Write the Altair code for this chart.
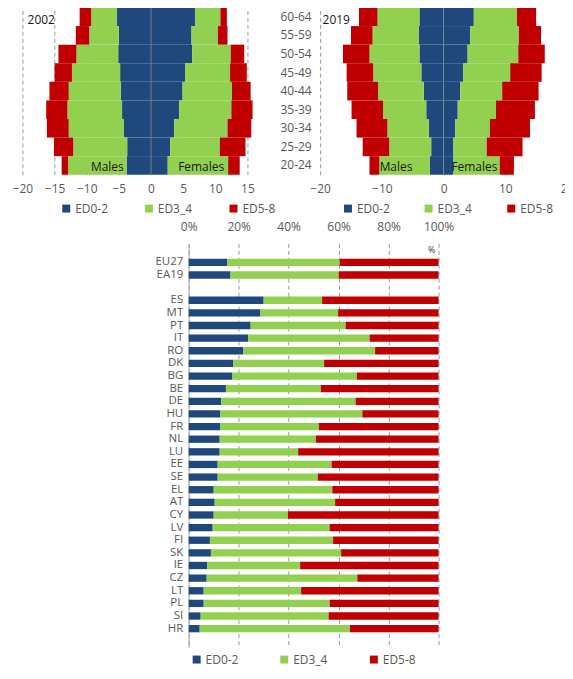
import altair as alt
import pandas as pd

FONT = "Open Sans"
GRAY = "#595959"

ages = ["20-24", "25-29", "30-34", "35-39", "40-44", "45-49", "50-54", "55-59", "60-64"]
levels = ["ED0-2", "ED3_4", "ED5-8"]
colors = ["#1F497D", "#92D050", "#C00000"]

# 2002 (share of population, %), listed from 20-24 to 60-64
m02_ed02 = [3.8, 3.7, 4.2, 4.5, 4.7, 4.8, 5.1, 5.0, 5.3]
m02_ed34 = [9.1, 8.4, 8.6, 8.5, 8.1, 7.5, 6.5, 4.6, 4.0]
m02_ed58 = [1.0, 3.0, 3.4, 3.3, 3.0, 2.7, 2.8, 2.1, 1.8]
f02_ed02 = [2.6, 3.0, 3.6, 4.4, 4.9, 5.3, 6.4, 6.3, 6.9]
f02_ed34 = [9.4, 7.7, 8.3, 8.1, 7.7, 7.0, 6.0, 4.1, 3.9]
f02_ed58 = [1.8, 4.0, 3.7, 3.3, 2.9, 2.6, 2.1, 1.5, 1.0]
# 2019
m19_ed02 = [2.2, 2.0, 2.4, 2.8, 3.2, 3.6, 3.9, 4.0, 3.9]
m19_ed34 = [8.2, 6.8, 6.7, 7.0, 7.4, 7.8, 8.1, 7.5, 6.8]
m19_ed58 = [1.6, 4.3, 5.0, 5.1, 5.0, 4.3, 4.3, 3.5, 3.0]
f19_ed02 = [1.6, 1.6, 1.9, 2.3, 2.7, 3.2, 3.9, 4.3, 4.9]
f19_ed34 = [7.5, 5.4, 5.6, 6.2, 6.8, 7.6, 8.2, 7.9, 7.0]
f19_ed58 = [2.3, 5.8, 6.5, 6.3, 5.9, 5.1, 4.3, 3.6, 3.1]

# Bottom chart: country shares (%)
countries = ["EU27", "EA19", "ES", "MT", "PT", "IT", "RO", "DK", "BG", "BE", "DE", "HU",
             "FR", "NL", "LU", "EE", "SE", "EL", "AT", "CY", "LV", "FI", "SK", "IE",
             "CZ", "LT", "PL", "SI", "HR"]
c_ed02 = [15.5, 16.7, 30.0, 28.7, 24.8, 23.8, 21.9, 17.8, 17.5, 14.9, 13.0, 12.7,
          12.7, 12.4, 12.4, 11.6, 11.6, 10.0, 10.4, 10.0, 9.6, 8.5, 8.9, 7.4,
          7.2, 6.0, 6.0, 4.8, 4.4]
c_ed34 = [44.9, 43.3, 23.4, 31.1, 38.0, 48.6, 52.7, 36.4, 49.8, 38.0, 53.8, 56.8,
          39.4, 38.5, 31.4, 45.6, 40.1, 47.5, 48.2, 29.7, 46.8, 49.3, 52.1, 37.2,
          60.3, 39.0, 50.4, 51.2, 60.1]
c_ed58 = [39.6, 40.0, 46.6, 40.2, 37.2, 27.6, 25.4, 45.8, 32.7, 47.1, 33.2, 30.5,
          47.9, 49.1, 56.2, 42.8, 48.3, 42.5, 41.4, 60.3, 43.6, 42.2, 39.0, 55.4,
          32.5, 55.0, 43.6, 44.0, 35.5]


def pyramid_df(m, f):
    rows = []
    for k, lev in enumerate(levels):
        for i, a in enumerate(ages):
            rows.append({"age": a, "level": lev, "ord": k, "value": -m[k][i]})
            rows.append({"age": a, "level": lev, "ord": k, "value": f[k][i]})
    return pd.DataFrame(rows)


def pyramid(df, xdom, xticks, year, year_x, males_x, females_x, show_y, leg_x, leg_pad, width):
    yaxis = alt.Axis(title=None, ticks=False, domain=False, labelPadding=9,
                     labelColor=GRAY, labelFontSize=12, labelFont=FONT) if show_y else None
    yenc = alt.Y("age:N", sort=ages[::-1], axis=yaxis,
                 scale=alt.Scale(paddingInner=0, paddingOuter=0))
    xscale = alt.Scale(domain=xdom, nice=False, zero=False)
    xaxis = alt.Axis(values=xticks, title=None, grid=True, gridDash=[4, 3],
                     gridColor="#9a9a9a", domain=False, ticks=False,
                     labelPadding=9, labelColor=GRAY, labelFontSize=12,
                     labelFont=FONT, labelFlush=False, labelOverlap=False)
    bars = alt.Chart(df).mark_bar(stroke=None).encode(
        x=alt.X("value:Q", stack="zero", scale=xscale, axis=xaxis),
        y=yenc,
        color=alt.Color("level:N", scale=alt.Scale(domain=levels, range=colors),
                        legend=alt.Legend(orient="none", legendX=leg_x, legendY=196,
                                          direction="horizontal", title=None,
                                          columnPadding=leg_pad, symbolType="square",
                                          symbolSize=64, symbolStrokeWidth=0,
                                          labelFontSize=12, labelColor=GRAY,
                                          labelFont=FONT, padding=0, labelOffset=3)),
        order=alt.Order("ord:Q"),
    )
    zero = alt.Chart(pd.DataFrame({"x": [0], "age": ["60-64"]})).mark_rule(
        color="#8c8c8c", strokeWidth=1, opacity=0.8).encode(
        x=alt.X("x:Q", scale=xscale, axis=xaxis), y=alt.value(0), y2=alt.value(168))
    year_df = pd.DataFrame({"t": [year], "x": [year_x], "age": ["60-64"]})
    year_txt = alt.Chart(year_df).mark_text(align="left", baseline="middle", dy=3,
                                            fontSize=12, font=FONT, color="#1a1a1a").encode(
        x=alt.X("x:Q", scale=xscale, axis=xaxis), y=yenc, text="t:N")
    sex_df = pd.DataFrame({"t": ["Males", "Females"], "x": [males_x, females_x],
                           "age": ["20-24", "20-24"]})
    sex_txt = alt.Chart(sex_df).mark_text(align="center", baseline="bottom", dy=9,
                                          fontSize=12, font=FONT, color="#1a1a1a").encode(
        x=alt.X("x:Q", scale=xscale, axis=xaxis), y=yenc, text="t:N")
    return alt.layer(bars, zero, year_txt, sex_txt).properties(width=width, height=168)


left = pyramid(pyramid_df([m02_ed02, m02_ed34, m02_ed58], [f02_ed02, f02_ed34, f02_ed58]),
               [-20, 15], [-20, -15, -10, -5, 0, 5, 10, 15], "2002", -19.2, -6.8, 7.8,
               False, 38, 35, 226)
right = pyramid(pyramid_df([m19_ed02, m19_ed34, m19_ed58], [f19_ed02, f19_ed34, f19_ed58]),
                [-20, 20], [-20, -10, 0, 10, 20], "2019", -19.6, -7.7, 5.0,
                True, 22, 33, 248)

# bottom chart
ydomain = ["_top", "EU27", "EA19", "_gap"] + countries[2:] + ["_bot"]
brows = []
for k, (lev, vals) in enumerate(zip(levels, [c_ed02, c_ed34, c_ed58])):
    for c, v in zip(countries, vals):
        brows.append({"c": c, "level": lev, "ord": k, "value": v})
bdf = pd.DataFrame(brows)
bx = alt.Scale(domain=[0, 100], nice=False)
by = alt.Scale(domain=ydomain, paddingInner=0.42, paddingOuter=0.21)
bxaxis = alt.Axis(orient="top", values=[0, 20, 40, 60, 80, 100], title=None,
                  labelExpr="datum.value + '%'", grid=True, gridDash=[4, 3],
                  gridColor="#9a9a9a", domain=False, ticks=False, labelPadding=10,
                  labelColor=GRAY, labelFontSize=12, labelFont=FONT,
                  labelFlush=False, labelOverlap=False)
byaxis = alt.Axis(title=None, ticks=False, domain=True, domainColor="#a6a6a6",
                  labelPadding=6, labelColor=GRAY, labelFontSize=11.5, labelFont=FONT,
                  labelOverlap=False,
                  labelExpr="indexof(datum.label, '_') == 0 ? '' : datum.label")
bars2 = alt.Chart(bdf).mark_bar().encode(
    x=alt.X("value:Q", stack="zero", scale=bx, axis=bxaxis),
    y=alt.Y("c:N", scale=by, axis=byaxis),
    color=alt.Color("level:N", scale=alt.Scale(domain=levels, range=colors),
                    legend=alt.Legend(orient="none", legendX=169, legendY=412,
                                      direction="horizontal", title=None, columnPadding=40,
                                      symbolType="square", symbolSize=64, symbolStrokeWidth=0,
                                      labelFontSize=12, labelColor=GRAY, labelFont=FONT,
                                      padding=0, labelOffset=3)),
    order=alt.Order("ord:Q"),
)
pct = alt.Chart(pd.DataFrame({"t": ["%"], "x": [97.2], "c": ["_top"]})).mark_text(
    fontSize=9, font=FONT, color="#404040").encode(
    x=alt.X("x:Q", scale=bx, axis=bxaxis), y=alt.Y("c:N", scale=by, axis=byaxis), text="t:N")
bottom = alt.layer(bars2, pct).properties(width=251, height=406)

spacer = alt.Chart(pd.DataFrame({"a": [0]})).mark_point(opacity=0, size=1).encode(
    x=alt.value(0), y=alt.value(0)).properties(width=167, height=406)

top_row = alt.hconcat(left, right, spacing=73, bounds="flush").resolve_scale(
    color="independent").resolve_legend(color="independent")
bottom_row = alt.hconcat(spacer, bottom, spacing=0, bounds="flush")

chart = alt.vconcat(top_row, bottom_row, spacing=6).resolve_scale(
    color="independent").resolve_legend(color="independent").properties(
    padding={"left": 3.5, "top": -3, "right": -9, "bottom": 0}
).configure_view(strokeWidth=0)

chart.save("out.html", embed_options={"renderer": "svg", "actions": False})
